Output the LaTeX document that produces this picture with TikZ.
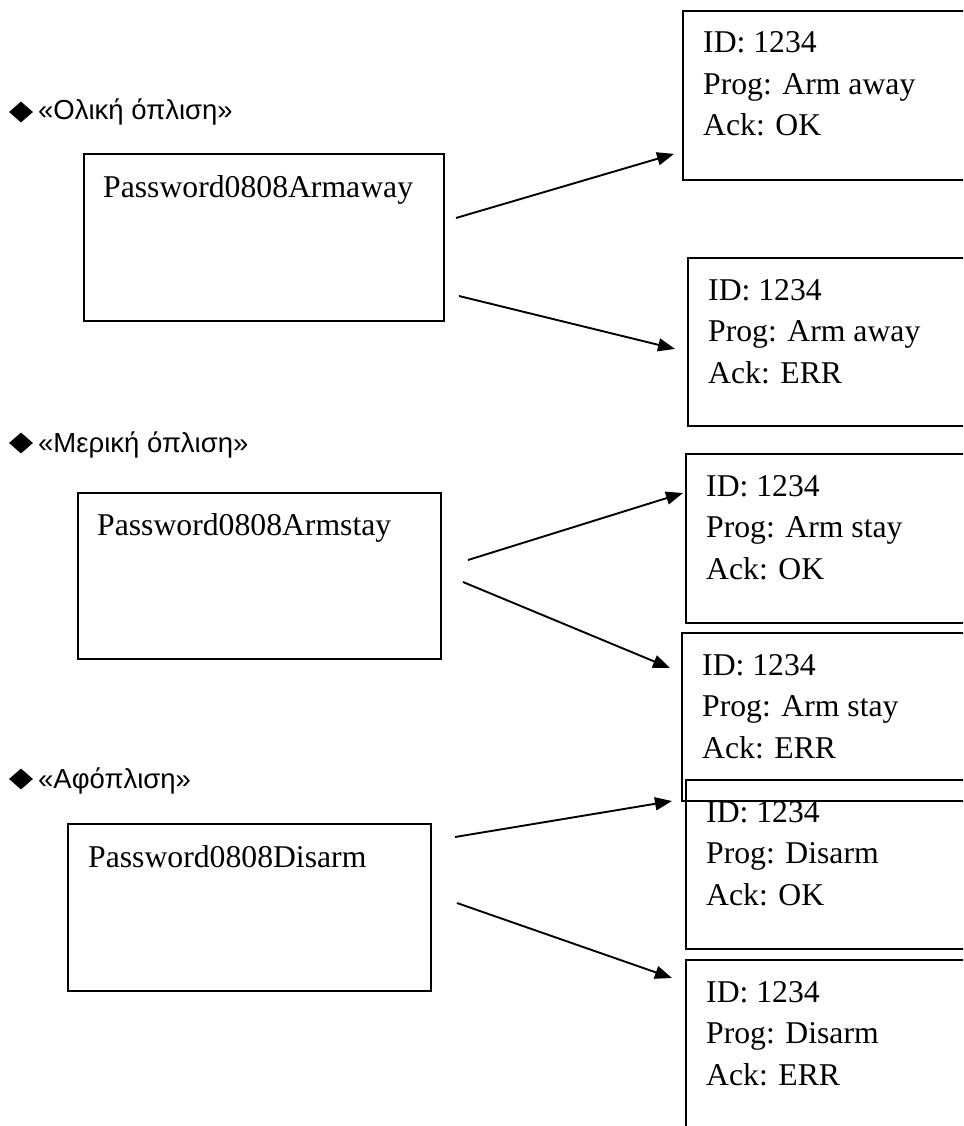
\documentclass[tikz,border=0pt]{standalone}
\usepackage{fontspec}
\setmainfont{Liberation Serif}
\newfontfamily\grkfont{Liberation Sans}
\usetikzlibrary{arrows.meta,shapes.geometric}
\begin{document}
\begin{tikzpicture}[x=1pt,y=-1pt,
  box/.style={draw, line width=1.9pt, rectangle, inner sep=0pt, anchor=north west},
  lbox/.style={box, minimum width=360pt, minimum height=167pt},
  rbox/.style={box, minimum width=340pt, minimum height=169pt},
  txt/.style={anchor=base west, inner sep=0pt, align=left, font=\fontsize{31.7}{41.5}\selectfont},
  head/.style={anchor=base west, inner sep=0pt, font=\grkfont\fontsize{27.5}{32}\selectfont},
  bullet/.style={diamond, fill=black, inner sep=0pt, minimum width=24pt, minimum height=21pt},
  conn/.style={line width=1.9pt, -{Triangle[length=17pt,width=13pt]}}
]
\clip (0,0) rectangle (963,1126);
\fill[white] (0,0) rectangle (963,1126);

% headings
\node[bullet] (d1) at (21,112) {};
\node[head] (h1) at (38,120) {«Ολική όπλιση»};
\node[bullet] (d2) at (21,443) {};
\node[head] (h2) at (38,452) {«Μερική όπλιση»};
\node[bullet] (d3) at (21,779) {};
\node[head] (h3) at (38,788) {«Αφόπλιση»};

% left boxes
\node[lbox, minimum width=360pt, minimum height=167pt] (L1) at (83,153) {};
\node[txt] (L1t) at (103,197) {Password0808Armaway};
\node[lbox, minimum width=363pt, minimum height=166pt] (L2) at (77,492) {};
\node[txt] (L2t) at (97,535) {Password0808Armstay};
\node[lbox, minimum width=363pt, minimum height=167pt] (L3) at (67,823) {};
\node[txt] (L3t) at (88,867) {Password0808Disarm};

% right boxes (text anchored at the baseline of its last line)
\node[rbox] (R1) at (682,10) {};
\node[txt] (R1t) at (703,136) {ID: 1234\\Prog: Arm away\\Ack: OK};
\node[rbox, minimum height=168pt] (R2) at (687,257) {};
\node[txt] (R2t) at (708,383) {ID: 1234\\Prog: Arm away\\Ack: ERR};
\node[rbox] (R3) at (685,453) {};
\node[txt] (R3t) at (706,579) {ID: 1234\\Prog: Arm stay\\Ack: OK};
\node[rbox, minimum height=168pt] (R4) at (681,632) {};
\node[txt] (R4t) at (702,758) {ID: 1234\\Prog: Arm stay\\Ack: ERR};
\node[rbox] (R5) at (685,779) {};
\node[txt] (R5t) at (706,905) {ID: 1234\\Prog: Disarm\\Ack: OK};
\node[rbox, minimum height=200pt] (R6) at (685,959) {};
\node[txt] (R6t) at (706,1085) {ID: 1234\\Prog: Disarm\\Ack: ERR};

% connectors
\coordinate (s1a) at (456,218);
\coordinate (s1b) at (459,296);
\coordinate (s2a) at (468,560);
\coordinate (s2b) at (463,582);
\coordinate (s3a) at (455,837);
\coordinate (s3b) at (457,903);
\draw[conn] (s1a) -- ([xshift=-8pt,yshift=27pt]R1.south west);
\draw[conn] (s1b) -- ([xshift=-12pt,yshift=78pt]R2.south west);
\draw[conn] (s2a) -- ([xshift=-2pt,yshift=-40pt]R3.north west);
\draw[conn] (s2b) -- ([xshift=-11pt,yshift=-36pt]R4.north west);
\draw[conn] (s3a) -- ([xshift=-13pt,yshift=-22pt]R5.north west);
\draw[conn] (s3b) -- ([xshift=-13pt,yshift=-19pt]R6.north west);
\end{tikzpicture}
\end{document}
